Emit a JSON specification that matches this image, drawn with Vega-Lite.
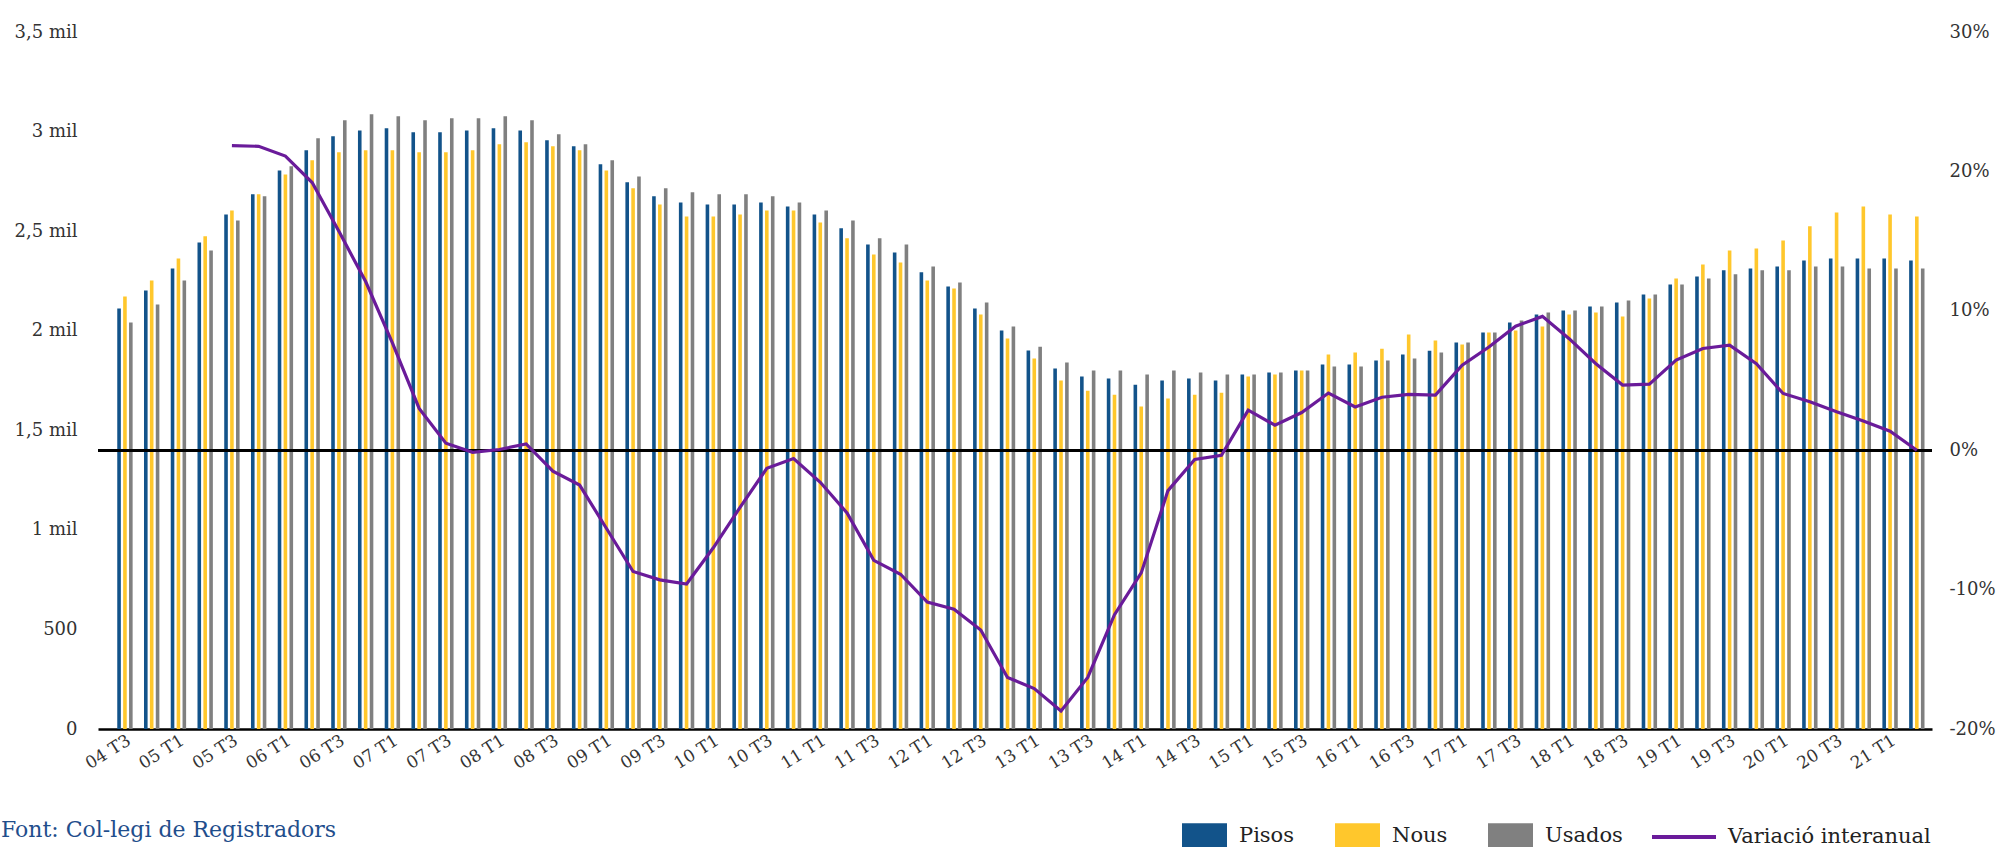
{
  "$schema": "https://vega.github.io/schema/vega-lite/v6.json",
  "autosize": {"type": "none"},
  "padding": {"left": 98, "top": 32, "right": 66, "bottom": 118},
  "width": 1834,
  "height": 697,
  "background": "white",
  "config": {
    "font": "DejaVu Serif",
    "view": {"stroke": null},
    "axis": {"labelFont": "DejaVu Serif", "labelColor": "#333333", "labelFontSize": 18, "grid": false, "ticks": false, "domain": false, "title": null},
    "legend": {"labelFont": "DejaVu Serif", "labelFontSize": 21, "labelColor": "#222222", "title": null, "labelLimit": 400}
  },
  "title": {
    "text": "Font: Col-legi de Registradors",
    "orient": "bottom",
    "anchor": "start",
    "frame": "group",
    "dx": -97,
    "dy": -26,
    "offset": 8,
    "baseline": "middle",
    "font": "DejaVu Serif",
    "fontSize": 22,
    "fontWeight": "normal",
    "color": "#1F4E8C"
  },
  "datasets": {
    "bars": [
      {"q":"04 T3","s":"Pisos","v":2112},{"q":"04 T3","s":"Nous","v":2172},{"q":"04 T3","s":"Usados","v":2041},
      {"q":"04 T4","s":"Pisos","v":2202},{"q":"04 T4","s":"Nous","v":2252},{"q":"04 T4","s":"Usados","v":2132},
      {"q":"05 T1","s":"Pisos","v":2313},{"q":"05 T1","s":"Nous","v":2363},{"q":"05 T1","s":"Usados","v":2252},
      {"q":"05 T2","s":"Pisos","v":2443},{"q":"05 T2","s":"Nous","v":2474},{"q":"05 T2","s":"Usados","v":2403},
      {"q":"05 T3","s":"Pisos","v":2584},{"q":"05 T3","s":"Nous","v":2604},{"q":"05 T3","s":"Usados","v":2554},
      {"q":"05 T4","s":"Pisos","v":2685},{"q":"05 T4","s":"Nous","v":2685},{"q":"05 T4","s":"Usados","v":2675},
      {"q":"06 T1","s":"Pisos","v":2805},{"q":"06 T1","s":"Nous","v":2785},{"q":"06 T1","s":"Usados","v":2826},
      {"q":"06 T2","s":"Pisos","v":2906},{"q":"06 T2","s":"Nous","v":2856},{"q":"06 T2","s":"Usados","v":2966},
      {"q":"06 T3","s":"Pisos","v":2976},{"q":"06 T3","s":"Nous","v":2896},{"q":"06 T3","s":"Usados","v":3057},
      {"q":"06 T4","s":"Pisos","v":3006},{"q":"06 T4","s":"Nous","v":2906},{"q":"06 T4","s":"Usados","v":3087},
      {"q":"07 T1","s":"Pisos","v":3017},{"q":"07 T1","s":"Nous","v":2906},{"q":"07 T1","s":"Usados","v":3077},
      {"q":"07 T2","s":"Pisos","v":2996},{"q":"07 T2","s":"Nous","v":2896},{"q":"07 T2","s":"Usados","v":3057},
      {"q":"07 T3","s":"Pisos","v":2996},{"q":"07 T3","s":"Nous","v":2896},{"q":"07 T3","s":"Usados","v":3067},
      {"q":"07 T4","s":"Pisos","v":3006},{"q":"07 T4","s":"Nous","v":2906},{"q":"07 T4","s":"Usados","v":3067},
      {"q":"08 T1","s":"Pisos","v":3017},{"q":"08 T1","s":"Nous","v":2936},{"q":"08 T1","s":"Usados","v":3077},
      {"q":"08 T2","s":"Pisos","v":3006},{"q":"08 T2","s":"Nous","v":2946},{"q":"08 T2","s":"Usados","v":3057},
      {"q":"08 T3","s":"Pisos","v":2956},{"q":"08 T3","s":"Nous","v":2926},{"q":"08 T3","s":"Usados","v":2986},
      {"q":"08 T4","s":"Pisos","v":2926},{"q":"08 T4","s":"Nous","v":2906},{"q":"08 T4","s":"Usados","v":2936},
      {"q":"09 T1","s":"Pisos","v":2836},{"q":"09 T1","s":"Nous","v":2805},{"q":"09 T1","s":"Usados","v":2856},
      {"q":"09 T2","s":"Pisos","v":2745},{"q":"09 T2","s":"Nous","v":2715},{"q":"09 T2","s":"Usados","v":2775},
      {"q":"09 T3","s":"Pisos","v":2675},{"q":"09 T3","s":"Nous","v":2634},{"q":"09 T3","s":"Usados","v":2715},
      {"q":"09 T4","s":"Pisos","v":2644},{"q":"09 T4","s":"Nous","v":2574},{"q":"09 T4","s":"Usados","v":2695},
      {"q":"10 T1","s":"Pisos","v":2634},{"q":"10 T1","s":"Nous","v":2574},{"q":"10 T1","s":"Usados","v":2685},
      {"q":"10 T2","s":"Pisos","v":2634},{"q":"10 T2","s":"Nous","v":2584},{"q":"10 T2","s":"Usados","v":2685},
      {"q":"10 T3","s":"Pisos","v":2644},{"q":"10 T3","s":"Nous","v":2604},{"q":"10 T3","s":"Usados","v":2675},
      {"q":"10 T4","s":"Pisos","v":2624},{"q":"10 T4","s":"Nous","v":2604},{"q":"10 T4","s":"Usados","v":2644},
      {"q":"11 T1","s":"Pisos","v":2584},{"q":"11 T1","s":"Nous","v":2544},{"q":"11 T1","s":"Usados","v":2604},
      {"q":"11 T2","s":"Pisos","v":2514},{"q":"11 T2","s":"Nous","v":2464},{"q":"11 T2","s":"Usados","v":2554},
      {"q":"11 T3","s":"Pisos","v":2433},{"q":"11 T3","s":"Nous","v":2383},{"q":"11 T3","s":"Usados","v":2464},
      {"q":"11 T4","s":"Pisos","v":2393},{"q":"11 T4","s":"Nous","v":2343},{"q":"11 T4","s":"Usados","v":2433},
      {"q":"12 T1","s":"Pisos","v":2293},{"q":"12 T1","s":"Nous","v":2252},{"q":"12 T1","s":"Usados","v":2323},
      {"q":"12 T2","s":"Pisos","v":2222},{"q":"12 T2","s":"Nous","v":2212},{"q":"12 T2","s":"Usados","v":2242},
      {"q":"12 T3","s":"Pisos","v":2112},{"q":"12 T3","s":"Nous","v":2081},{"q":"12 T3","s":"Usados","v":2142},
      {"q":"12 T4","s":"Pisos","v":2001},{"q":"12 T4","s":"Nous","v":1961},{"q":"12 T4","s":"Usados","v":2021},
      {"q":"13 T1","s":"Pisos","v":1901},{"q":"13 T1","s":"Nous","v":1860},{"q":"13 T1","s":"Usados","v":1920},
      {"q":"13 T2","s":"Pisos","v":1810},{"q":"13 T2","s":"Nous","v":1750},{"q":"13 T2","s":"Usados","v":1840},
      {"q":"13 T3","s":"Pisos","v":1770},{"q":"13 T3","s":"Nous","v":1699},{"q":"13 T3","s":"Usados","v":1800},
      {"q":"13 T4","s":"Pisos","v":1760},{"q":"13 T4","s":"Nous","v":1679},{"q":"13 T4","s":"Usados","v":1800},
      {"q":"14 T1","s":"Pisos","v":1729},{"q":"14 T1","s":"Nous","v":1619},{"q":"14 T1","s":"Usados","v":1780},
      {"q":"14 T2","s":"Pisos","v":1750},{"q":"14 T2","s":"Nous","v":1659},{"q":"14 T2","s":"Usados","v":1800},
      {"q":"14 T3","s":"Pisos","v":1760},{"q":"14 T3","s":"Nous","v":1679},{"q":"14 T3","s":"Usados","v":1790},
      {"q":"14 T4","s":"Pisos","v":1750},{"q":"14 T4","s":"Nous","v":1689},{"q":"14 T4","s":"Usados","v":1780},
      {"q":"15 T1","s":"Pisos","v":1780},{"q":"15 T1","s":"Nous","v":1770},{"q":"15 T1","s":"Usados","v":1780},
      {"q":"15 T2","s":"Pisos","v":1790},{"q":"15 T2","s":"Nous","v":1780},{"q":"15 T2","s":"Usados","v":1790},
      {"q":"15 T3","s":"Pisos","v":1800},{"q":"15 T3","s":"Nous","v":1800},{"q":"15 T3","s":"Usados","v":1800},
      {"q":"15 T4","s":"Pisos","v":1830},{"q":"15 T4","s":"Nous","v":1880},{"q":"15 T4","s":"Usados","v":1820},
      {"q":"16 T1","s":"Pisos","v":1830},{"q":"16 T1","s":"Nous","v":1890},{"q":"16 T1","s":"Usados","v":1820},
      {"q":"16 T2","s":"Pisos","v":1850},{"q":"16 T2","s":"Nous","v":1910},{"q":"16 T2","s":"Usados","v":1850},
      {"q":"16 T3","s":"Pisos","v":1880},{"q":"16 T3","s":"Nous","v":1981},{"q":"16 T3","s":"Usados","v":1860},
      {"q":"16 T4","s":"Pisos","v":1900},{"q":"16 T4","s":"Nous","v":1951},{"q":"16 T4","s":"Usados","v":1890},
      {"q":"17 T1","s":"Pisos","v":1941},{"q":"17 T1","s":"Nous","v":1931},{"q":"17 T1","s":"Usados","v":1941},
      {"q":"17 T2","s":"Pisos","v":1991},{"q":"17 T2","s":"Nous","v":1991},{"q":"17 T2","s":"Usados","v":1991},
      {"q":"17 T3","s":"Pisos","v":2041},{"q":"17 T3","s":"Nous","v":2001},{"q":"17 T3","s":"Usados","v":2051},
      {"q":"17 T4","s":"Pisos","v":2081},{"q":"17 T4","s":"Nous","v":2021},{"q":"17 T4","s":"Usados","v":2091},
      {"q":"18 T1","s":"Pisos","v":2102},{"q":"18 T1","s":"Nous","v":2081},{"q":"18 T1","s":"Usados","v":2102},
      {"q":"18 T2","s":"Pisos","v":2122},{"q":"18 T2","s":"Nous","v":2092},{"q":"18 T2","s":"Usados","v":2122},
      {"q":"18 T3","s":"Pisos","v":2142},{"q":"18 T3","s":"Nous","v":2071},{"q":"18 T3","s":"Usados","v":2152},
      {"q":"18 T4","s":"Pisos","v":2182},{"q":"18 T4","s":"Nous","v":2162},{"q":"18 T4","s":"Usados","v":2182},
      {"q":"19 T1","s":"Pisos","v":2232},{"q":"19 T1","s":"Nous","v":2262},{"q":"19 T1","s":"Usados","v":2232},
      {"q":"19 T2","s":"Pisos","v":2272},{"q":"19 T2","s":"Nous","v":2333},{"q":"19 T2","s":"Usados","v":2262},
      {"q":"19 T3","s":"Pisos","v":2303},{"q":"19 T3","s":"Nous","v":2403},{"q":"19 T3","s":"Usados","v":2283},
      {"q":"19 T4","s":"Pisos","v":2313},{"q":"19 T4","s":"Nous","v":2413},{"q":"19 T4","s":"Usados","v":2303},
      {"q":"20 T1","s":"Pisos","v":2323},{"q":"20 T1","s":"Nous","v":2453},{"q":"20 T1","s":"Usados","v":2303},
      {"q":"20 T2","s":"Pisos","v":2353},{"q":"20 T2","s":"Nous","v":2524},{"q":"20 T2","s":"Usados","v":2323},
      {"q":"20 T3","s":"Pisos","v":2363},{"q":"20 T3","s":"Nous","v":2594},{"q":"20 T3","s":"Usados","v":2323},
      {"q":"20 T4","s":"Pisos","v":2363},{"q":"20 T4","s":"Nous","v":2624},{"q":"20 T4","s":"Usados","v":2313},
      {"q":"21 T1","s":"Pisos","v":2363},{"q":"21 T1","s":"Nous","v":2584},{"q":"21 T1","s":"Usados","v":2313},
      {"q":"21 T2","s":"Pisos","v":2353},{"q":"21 T2","s":"Nous","v":2574},{"q":"21 T2","s":"Usados","v":2313}
    ],
    "line": [
      {"q":"05 T3","p":21.85},{"q":"05 T4","p":21.8},{"q":"06 T1","p":21.1},{"q":"06 T2","p":19.2},
      {"q":"06 T3","p":15.7},{"q":"06 T4","p":12.1},{"q":"07 T1","p":7.7},{"q":"07 T2","p":3.0},
      {"q":"07 T3","p":0.5},{"q":"07 T4","p":-0.15},{"q":"08 T1","p":0.05},{"q":"08 T2","p":0.45},
      {"q":"08 T3","p":-1.5},{"q":"08 T4","p":-2.5},{"q":"09 T1","p":-5.6},{"q":"09 T2","p":-8.7},
      {"q":"09 T3","p":-9.3},{"q":"09 T4","p":-9.6},{"q":"10 T1","p":-7.0},{"q":"10 T2","p":-4.1},
      {"q":"10 T3","p":-1.3},{"q":"10 T4","p":-0.6},{"q":"11 T1","p":-2.3},{"q":"11 T2","p":-4.5},
      {"q":"11 T3","p":-7.9},{"q":"11 T4","p":-8.9},{"q":"12 T1","p":-10.9},{"q":"12 T2","p":-11.4},
      {"q":"12 T3","p":-12.9},{"q":"12 T4","p":-16.3},{"q":"13 T1","p":-17.1},{"q":"13 T2","p":-18.7},
      {"q":"13 T3","p":-16.3},{"q":"13 T4","p":-11.8},{"q":"14 T1","p":-8.8},{"q":"14 T2","p":-2.9},
      {"q":"14 T3","p":-0.67},{"q":"14 T4","p":-0.36},{"q":"15 T1","p":2.87},{"q":"15 T2","p":1.79},
      {"q":"15 T3","p":2.7},{"q":"15 T4","p":4.1},{"q":"16 T1","p":3.1},{"q":"16 T2","p":3.8},
      {"q":"16 T3","p":4.0},{"q":"16 T4","p":3.95},{"q":"17 T1","p":6.1},{"q":"17 T2","p":7.4},
      {"q":"17 T3","p":8.9},{"q":"17 T4","p":9.6},{"q":"18 T1","p":8.0},{"q":"18 T2","p":6.2},
      {"q":"18 T3","p":4.67},{"q":"18 T4","p":4.74},{"q":"19 T1","p":6.46},{"q":"19 T2","p":7.3},
      {"q":"19 T3","p":7.54},{"q":"19 T4","p":6.2},{"q":"20 T1","p":4.07},{"q":"20 T2","p":3.47},
      {"q":"20 T3","p":2.75},{"q":"20 T4","p":2.1},{"q":"21 T1","p":1.36},{"q":"21 T2","p":0.0}
    ]
  },
  "encoding": {
    "x": {
      "field": "q",
      "type": "nominal",
      "sort": null,
      "scale": {"paddingInner": 0.425, "paddingOuter": 0.5, "align": 0.72},
      "axis": {
        "values": ["04 T3","05 T1","05 T3","06 T1","06 T3","07 T1","07 T3","08 T1","08 T3","09 T1","09 T3","10 T1","10 T3","11 T1","11 T3","12 T1","12 T3","13 T1","13 T3","14 T1","14 T3","15 T1","15 T3","16 T1","16 T3","17 T1","17 T3","18 T1","18 T3","19 T1","19 T3","20 T1","20 T3","21 T1"],
        "labelAngle": -32,
        "labelAlign": "right",
        "labelBaseline": "top",
        "labelPadding": 3,
        "labelFontSize": 17,
        "domain": true,
        "domainColor": "#000000",
        "domainWidth": 2.5
      }
    }
  },
  "layer": [
    {
      "data": {"name": "bars"},
      "mark": {"type": "bar"},
      "encoding": {
        "xOffset": {"field": "s", "type": "nominal", "sort": ["Pisos","Nous","Usados"], "scale": {"paddingInner": 0.39, "paddingOuter": 0}},
        "y": {
          "field": "v",
          "type": "quantitative",
          "scale": {"domain": [0, 3500], "nice": false, "zero": true},
          "axis": {
            "orient": "left",
            "values": [0, 500, 1000, 1500, 2000, 2500, 3000, 3500],
            "labelExpr": "datum.value >= 1000 ? replace(format(datum.value / 1000, '.1~f'), '.', ',') + ' mil' : format(datum.value, 'd')",
            "labelPadding": 21
          }
        },
        "color": {
          "field": "s",
          "type": "nominal",
          "sort": ["Pisos","Nous","Usados"],
          "scale": {"domain": ["Pisos","Nous","Usados"], "range": ["#12538A","#FFC72C","#808080"]},
          "legend": {
            "orient": "none",
            "direction": "horizontal",
            "legendX": 1084,
            "legendY": 781,
            "symbolType": "M-1,-0.55H1V0.55H-1Z",
            "symbolSize": 2025,
            "symbolStrokeWidth": 0,
            "symbolOpacity": 1,
            "labelOffset": 12,
            "columnPadding": 40
          }
        }
      }
    },
    {
      "data": {"name": "line"},
      "layer": [
        {
          "mark": {"type": "rule", "color": "#000000", "strokeWidth": 2.5},
          "encoding": {
            "y": {"datum": 0, "type": "quantitative", "scale": {"domain": [-20, 30], "nice": false}, "axis": {"orient": "right", "values": [-20, -10, 0, 10, 20, 30], "labelExpr": "datum.value + '%'", "labelAlign": "left", "labelPadding": 17}},
            "x": {"value": 0},
            "x2": {"value": 1834}
          }
        },
        {
          "mark": {"type": "line", "strokeWidth": 3.2},
          "encoding": {
            "y": {"field": "p", "type": "quantitative"},
            "stroke": {
              "datum": "Variació interanual",
              "type": "nominal",
              "scale": {"range": ["#6A1B9A"]},
              "legend": {
                "orient": "none",
                "legendX": 1552,
                "legendY": 771,
                "symbolType": "stroke",
                "symbolSize": 4096,
                "symbolStrokeWidth": 4,
                "labelOffset": 10
              }
            }
          }
        }
      ]
    }
  ],
  "resolve": {"scale": {"y": "independent"}}
}
